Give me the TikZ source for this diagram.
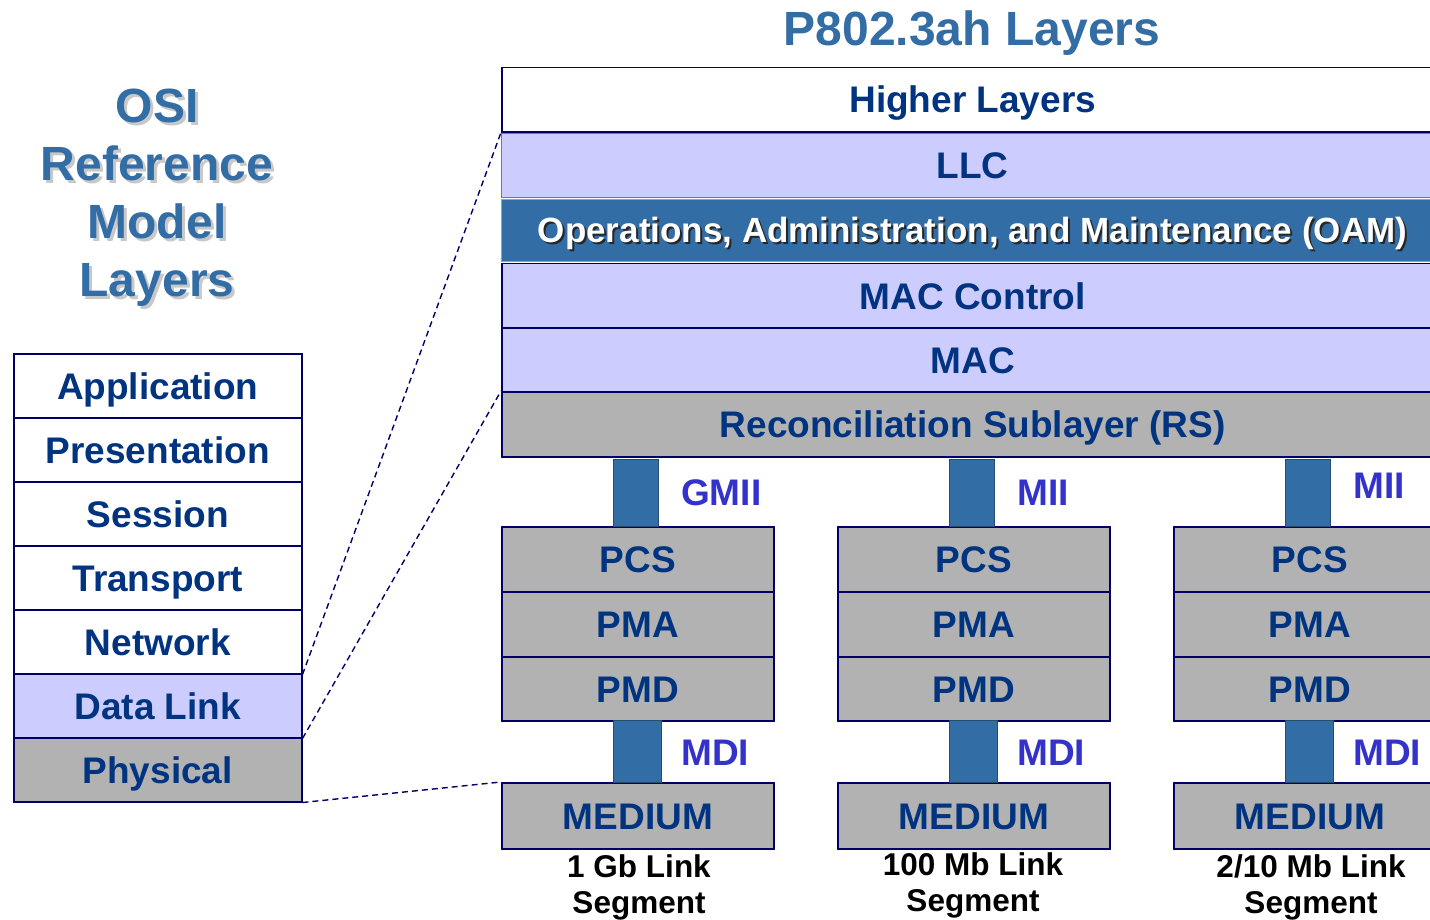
\documentclass[tikz,border=0pt]{standalone}
\usepackage{fontspec}
\setmainfont{Liberation Sans}
\definecolor{navy}{HTML}{000066}
\definecolor{txt}{HTML}{003380}
\definecolor{lav}{HTML}{CCCCFF}
\definecolor{gry}{HTML}{B2B2B2}
\definecolor{steel}{HTML}{336DA5}
\definecolor{lbl}{HTML}{3333CC}
\definecolor{shd}{HTML}{C8C8C8}
\newcommand\shtext[3]{\rlap{\hspace*{#3}\raisebox{-#3}{\textcolor{#1}{#2}}}#2}
\begin{document}
\begin{tikzpicture}[x=1pt,y=-1pt,
  box/.style={draw=navy, line width=1.5pt, inner sep=0pt, anchor=north west, text=txt,
    font=\fontsize{37}{40}\selectfont\bfseries, text height=26.5pt, text depth=0pt},
  osi/.style={box, minimum width=288pt, minimum height=64pt},
  wide/.style={box, minimum width=942pt, minimum height=64pt},
  sub/.style={box, fill=gry, line width=2pt, minimum width=272pt, minimum height=65pt},
  bar/.style={draw=steel!70!black, line width=1pt, fill=steel, anchor=north west, inner sep=0pt},
  iflabel/.style={text=lbl, font=\fontsize{37}{40}\selectfont\bfseries, text height=26.5pt, text depth=0pt, inner sep=0pt, anchor=west},
  caption/.style={font=\fontsize{31.5}{36}\selectfont\bfseries, align=center, inner sep=0pt, anchor=north},
  conn/.style={draw=navy, line width=1.4pt, dash pattern=on 6pt off 4pt}]
\clip (0,0) rectangle (1430,920);
\fill[white] (0,0) rectangle (1430,920);

% titles
\node[text=steel, font=\fontsize{48}{58}\selectfont\bfseries, anchor=base] (ptitle) at (972,46) {P802.3ah Layers};
\node[text=steel, font=\fontsize{48}{58}\selectfont\bfseries, align=center, inner sep=0pt] (otitle) at (157,199)
  {\shtext{shd}{OSI}{3pt}\\\shtext{shd}{Reference}{3pt}\\\shtext{shd}{Model}{3pt}\\\shtext{shd}{Layers}{3pt}};

% OSI stack
\node[osi] (app) at (13,353) {Application};
\node[osi] (pres) at (13,417) {Presentation};
\node[osi] (sess) at (13,481) {Session};
\node[osi] (trans) at (13,545) {Transport};
\node[osi] (net) at (13,609) {Network};
\node[osi, fill=lav] (dl) at (13,673) {Data Link};
\node[osi, fill=gry] (phy) at (13,737) {Physical};

% P802.3ah stack
\node[wide] (hl) at (501,67) {Higher Layers};
\draw[navy, line width=3pt] (hl.south west) -- (hl.south east);
\node[wide, fill=lav, draw=navy!45!lav, line width=1pt] (llc) at (501,133) {LLC};
\node[wide, fill=steel, draw=steel!60!white, line width=1pt, minimum height=62pt, text=white,
  font=\fontsize{35}{40}\selectfont\bfseries, text height=25pt] (oam) at (501,199)
  {\shtext{black!85}{Operations, Administration, and Maintenance (OAM)}{2pt}};
\node[wide, fill=lav] (macc) at (501,263) {MAC Control};
\node[wide, fill=lav] (mac) at (501,327) {MAC};
\node[wide, fill=gry, minimum height=65pt] (rs) at (501,391) {Reconciliation Sublayer (RS)};

% column 1
\node[sub] (pcs1) at (501,526) {PCS};
\node[sub] (pma1) at (501,591) {PMA};
\node[sub, minimum height=64pt] (pmd1) at (501,656) {PMD};
\node[sub, minimum height=66pt] (med1) at (501,782) {MEDIUM};
% column 2
\node[sub] (pcs2) at (837,526) {PCS};
\node[sub] (pma2) at (837,591) {PMA};
\node[sub, minimum height=64pt] (pmd2) at (837,656) {PMD};
\node[sub, minimum height=66pt] (med2) at (837,782) {MEDIUM};
% column 3
\node[sub] (pcs3) at (1173,526) {PCS};
\node[sub] (pma3) at (1173,591) {PMA};
\node[sub, minimum height=64pt] (pmd3) at (1173,656) {PMD};
\node[sub, minimum height=66pt] (med3) at (1173,782) {MEDIUM};

% interface bars
\node[bar, minimum width=45pt, minimum height=67pt] (gmii) at (613,459) {};
\node[bar, minimum width=48pt, minimum height=62pt] (mdi1) at (613,720) {};
\node[bar, minimum width=45pt, minimum height=67pt] (mii2) at (949,459) {};
\node[bar, minimum width=48pt, minimum height=62pt] (mdi2) at (949,720) {};
\node[bar, minimum width=45pt, minimum height=67pt] (mii3) at (1285,459) {};
\node[bar, minimum width=48pt, minimum height=62pt] (mdi3) at (1285,720) {};

\node[iflabel] (lgmii) at (681,492) {GMII};
\node[iflabel] (lmdi1) at (681,752) {MDI};
\node[iflabel] (lmii2) at (1017,492) {MII};
\node[iflabel] (lmdi2) at (1017,752) {MDI};
\node[iflabel] (lmii3) at (1353,485) {MII};
\node[iflabel] (lmdi3) at (1353,752) {MDI};

% captions
\node[caption] (c1) at (639,854) {1 Gb Link\\Segment};
\node[caption] (c2) at (973,852) {100 Mb Link\\Segment};
\node[caption] (c3) at (1311,854) {2/10 Mb Link\\Segment};

% dashed mapping lines
\draw[conn] (net.south east) -- (hl.south west);
\draw[conn] (dl.south east) -- (rs.north west);
\draw[conn] (phy.south east) -- (med1.north west);
\end{tikzpicture}
\end{document}
